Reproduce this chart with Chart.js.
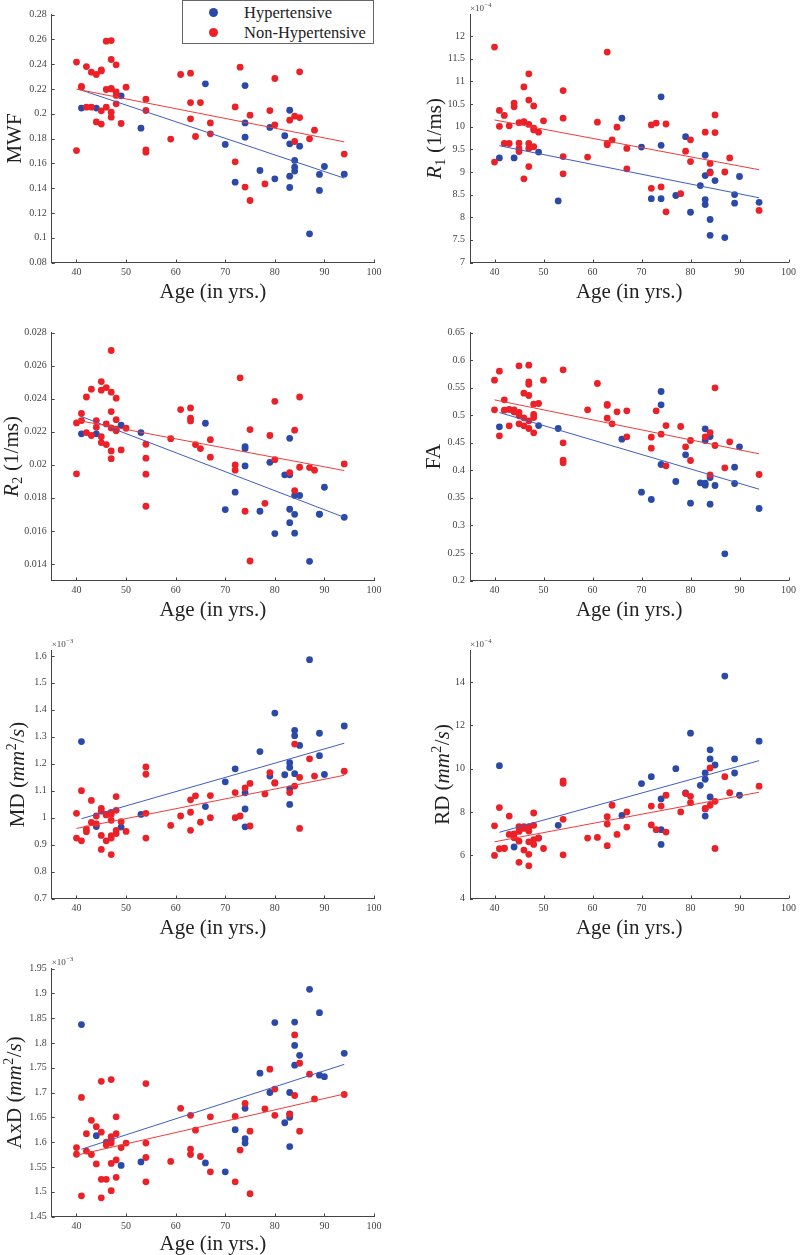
<!DOCTYPE html>
<html>
<head>
<meta charset="utf-8">
<script src="https://cdn.jsdelivr.net/npm/chart.js@4.4.1/dist/chart.umd.min.js"></script>
<style>
  html, body { margin: 0; padding: 0; background: #fff; }
  body { width: 800px; height: 1255px; position: relative; overflow: hidden; }
  canvas { position: absolute; }
  .legend {
    position: absolute; left: 182px; top: 0; width: 190px; height: 42px;
    border: 1px solid #666; background: #fff; z-index: 2;
    font-family: 'Liberation Serif', serif; font-size: 16.5px; color: #222;
  }
  .legend .dot { position: absolute; left: 26px; width: 9px; height: 9px; border-radius: 50%; }
  .legend .txt { position: absolute; left: 61px; line-height: 18px; white-space: nowrap; }
</style>
</head>
<body>
<div class="legend">
  <span class="dot" style="top:7px;background:#2b4aa8"></span><span class="txt" style="top:3px">Hypertensive</span>
  <span class="dot" style="top:27px;background:#ec2027"></span><span class="txt" style="top:23px">Non-Hypertensive</span>
</div>
<script>
  // subjects (ages in years), same for every panel
  const hypAge = [41, 44, 49, 53, 66, 70, 72, 74, 74, 74, 77, 79, 80, 82, 83, 83, 83, 83, 84, 84, 84, 85, 87, 89, 89, 90, 94];
  const nonAge = [40, 40, 41, 41, 42, 42, 43, 43, 44, 44, 45, 45, 45, 45, 46, 46, 46, 47, 47, 47, 47, 47, 47,
    48, 48, 48, 48, 49, 50, 54, 54, 54, 54, 59, 61, 63, 63, 63, 64, 65, 67, 67, 72, 72, 73, 74, 75, 75,
    78, 79, 80, 80, 83, 84, 84, 85, 85, 87, 88, 94];
  const fitAgeHyp = [41, 94];
  const fitAgeNon = [40, 94];
  const ageTicks = [40, 50, 60, 70, 80, 90, 100];

  // MWF
  const mwfHyp = [0.2045, 0.2045, 0.2144, 0.1883, 0.2241, 0.1752, 0.1448, 0.2227, 0.1926, 0.1811, 0.1542, 0.1889, 0.1475,
    0.1822, 0.2028, 0.1757, 0.1496, 0.1405, 0.1623, 0.1569, 0.1537, 0.1738, 0.1031, 0.1510, 0.1381, 0.1574, 0.1512];
  const mwfNon = [0.2416, 0.1703, 0.2220, 0.2215, 0.2380, 0.2053, 0.2335, 0.2053, 0.2316, 0.1934,
    0.2354, 0.2345, 0.2023, 0.1916, 0.2585, 0.2195, 0.2053, 0.2590, 0.2437, 0.2205, 0.2012, 0.1972, 0.2200,
    0.2394, 0.2176, 0.2147, 0.2080, 0.1921, 0.2214, 0.2117, 0.2026, 0.1709, 0.1690, 0.1795, 0.2316,
    0.2327, 0.2090, 0.1959, 0.1816, 0.2090, 0.1926, 0.1838, 0.2055, 0.1612, 0.2375, 0.1408, 0.1988, 0.1300,
    0.1434, 0.2025, 0.2284, 0.1910, 0.1948, 0.1980, 0.1776, 0.2338, 0.1969, 0.1797, 0.1867, 0.1674];
  const mwfFitHyp = [0.219, 0.148];
  const mwfFitNon = [0.2198, 0.1773];
  const mwfTicks = [0.08, 0.1, 0.12, 0.14, 0.16, 0.18, 0.2, 0.22, 0.24, 0.26, 0.28];

  // R1 (x 1e-4)
  const r1Hyp = [9.31, 9.31, 9.44, 8.36, 10.19, 9.55, 8.41, 10.66, 9.59, 8.41, 8.48, 9.78, 8.11, 8.70, 9.37, 8.92, 8.39,
    8.28, 9.00, 7.95, 7.60, 8.81, 7.55, 8.50, 8.31, 8.90, 8.33];
  const r1Non = [11.76, 9.22, 10.36, 10.01, 10.25, 9.63, 10.02, 9.63, 10.52, 10.44,
    10.09, 9.64, 9.52, 9.45, 10.88, 10.11, 8.85, 11.17, 10.59, 10.05, 9.63, 9.52, 9.12,
    10.46, 9.97, 9.93, 9.56, 9.88, 10.13, 10.80, 10.19, 9.34, 8.96, 9.33, 10.10,
    11.65, 9.63, 9.60, 9.71, 9.99, 9.52, 9.07, 10.04, 8.64, 10.08, 8.67, 10.06, 8.12,
    8.52, 9.46, 9.71, 9.23, 9.88, 9.19, 8.98, 10.26, 9.87, 9.00, 9.31, 8.15];
  const r1FitHyp = [9.58, 8.43];
  const r1FitNon = [10.15, 9.05];
  const r1Ticks = [7, 7.5, 8, 8.5, 9, 9.5, 10, 10.5, 11, 11.5, 12];

  // R2
  const r2Hyp = [0.02187, 0.02187, 0.02239, 0.02195, 0.02251, 0.01729, 0.01834, 0.02110, 0.02098, 0.01993, 0.01719,
    0.02015, 0.01584, 0.01939, 0.02160, 0.01939, 0.01731, 0.01650, 0.01814, 0.01700, 0.01586, 0.01814, 0.01416,
    0.01700, 0.01702, 0.01864, 0.01682];
  const r2Non = [0.02253, 0.01945, 0.02310, 0.02267, 0.02410, 0.02195, 0.02457, 0.02177, 0.02267, 0.02227,
    0.02503, 0.02451, 0.02170, 0.02134, 0.02467, 0.02247, 0.02122, 0.02691, 0.02439, 0.02322, 0.02223, 0.02084, 0.02037,
    0.02403, 0.02273, 0.02215, 0.02205, 0.02090, 0.02221, 0.02124, 0.02040, 0.01943, 0.01749, 0.02158, 0.02334,
    0.02344, 0.02282, 0.02265, 0.02122, 0.02098, 0.02152, 0.02046, 0.01999, 0.01967, 0.02526, 0.01719, 0.02213, 0.01418,
    0.01767, 0.02177, 0.02384, 0.02031, 0.01953, 0.02209, 0.01844, 0.02410, 0.01985, 0.01983, 0.01967, 0.02005];
  const r2FitHyp = [0.02292, 0.01682];
  const r2FitNon = [0.02270, 0.01965];
  const r2Ticks = [0.014, 0.016, 0.018, 0.02, 0.022, 0.024, 0.026, 0.028];

  // FA
  const faHyp = [0.4788, 0.5060, 0.4812, 0.4758, 0.4565, 0.3603, 0.3470, 0.5429, 0.5187, 0.4105, 0.3796, 0.4280, 0.3403,
    0.3772, 0.4752, 0.4540, 0.3766, 0.3730, 0.4613, 0.3869, 0.3385, 0.3724, 0.2484, 0.4056, 0.3760, 0.4425, 0.3306];
  const faNon = [0.5635, 0.5097, 0.5798, 0.4625, 0.5278, 0.5091, 0.5103, 0.4806, 0.5097, 0.5060,
    0.5895, 0.5048, 0.4988, 0.4843, 0.5399, 0.4952, 0.4806, 0.5907, 0.5605, 0.5560, 0.5357, 0.4897, 0.4758,
    0.5200, 0.5012, 0.4958, 0.4679, 0.5212, 0.5635, 0.5823, 0.4498, 0.4183, 0.4135, 0.5097, 0.5575,
    0.5194, 0.4946, 0.5180, 0.4843, 0.5060, 0.5079, 0.4607, 0.4601, 0.4401, 0.5079, 0.4655, 0.4812, 0.4081,
    0.4794, 0.4425, 0.4540, 0.4177, 0.4607, 0.4685, 0.3917, 0.5496, 0.4450, 0.4044, 0.4516, 0.3923];
  const faFitHyp = [0.5048, 0.3657];
  const faFitNon = [0.5278, 0.4298];
  const faTicks = [0.2, 0.25, 0.3, 0.35, 0.4, 0.45, 0.5, 0.55, 0.6, 0.65];

  // MD (x 1e-3)
  const mdHyp = [1.282, 0.967, 0.965, 1.012, 1.041, 1.133, 1.181, 1.092, 1.032, 0.966, 1.245, 1.154, 1.388, 1.159,
    1.204, 1.186, 1.107, 1.049, 1.324, 1.304, 1.163, 1.268, 1.586, 1.313, 1.230, 1.160, 1.340];
  const mdNon = [1.016, 0.924, 1.100, 0.914, 0.958, 0.948, 1.064, 0.982, 1.006, 0.977,
    1.034, 1.024, 0.934, 0.882, 1.012, 0.914, 1.010, 1.019, 0.990, 0.933, 0.924, 0.863, 1.012,
    1.078, 1.027, 0.953, 0.941, 0.985, 0.949, 1.188, 1.161, 1.016, 0.924, 0.971, 1.006,
    1.066, 1.020, 0.953, 1.081, 0.983, 1.082, 1.000, 1.093, 1.000, 1.006, 1.110, 1.127, 0.969,
    1.088, 1.167, 1.130, 1.128, 1.093, 1.273, 1.117, 1.149, 0.960, 1.218, 1.154, 1.172];
  const mdFitHyp = [0.996, 1.276];
  const mdFitNon = [0.960, 1.157];
  const mdTicks = [0.7, 0.8, 0.9, 1, 1.1, 1.2, 1.3, 1.4, 1.5, 1.6];

  // RD (x 1e-4)
  const rdHyp = [10.14, 6.38, 6.80, 7.38, 7.84, 9.31, 9.63, 8.60, 7.18, 6.50, 10.00, 8.88, 11.64, 9.23, 9.80, 9.51,
    8.14, 7.81, 10.87, 10.45, 8.69, 10.17, 14.28, 10.45, 9.80, 8.77, 11.27];
  const rdNon = [7.36, 5.99, 8.20, 6.30, 6.33, 6.31, 7.81, 6.96, 6.99, 6.81,
    7.32, 7.10, 6.65, 5.67, 7.32, 7.24, 6.24, 7.32, 7.12, 6.62, 6.04, 5.51, 7.30,
    7.95, 7.38, 6.72, 6.50, 6.79, 6.31, 9.43, 9.32, 7.66, 6.02, 6.79, 6.82,
    7.78, 7.44, 6.44, 8.31, 6.96, 8.00, 7.30, 8.27, 7.40, 7.18, 8.27, 8.77, 7.07,
    8.00, 8.85, 8.72, 8.43, 8.16, 10.03, 8.31, 8.49, 6.31, 9.63, 8.89, 9.19];
  const rdFitHyp = [7.06, 10.37];
  const rdFitNon = [6.62, 8.91];
  const rdTicks = [4, 6, 8, 10, 12, 14];

  // AxD (x 1e-3)
  const axdHyp = [1.837, 1.613, 1.553, 1.560, 1.558, 1.540, 1.625, 1.668, 1.607, 1.598, 1.739, 1.700, 1.841, 1.639,
    1.700, 1.657, 1.650, 1.591, 1.842, 1.795, 1.755, 1.775, 1.908, 1.861, 1.735, 1.732, 1.779];
  const axdNon = [1.589, 1.5755, 1.690, 1.4916, 1.617, 1.582, 1.644, 1.575, 1.631, 1.556,
    1.7225, 1.620, 1.525, 1.4876, 1.600, 1.594, 1.525, 1.726, 1.611, 1.604, 1.598, 1.557, 1.502,
    1.651, 1.617, 1.564, 1.529, 1.589, 1.598, 1.718, 1.598, 1.569, 1.520, 1.561, 1.668,
    1.654, 1.586, 1.575, 1.624, 1.571, 1.651, 1.540, 1.652, 1.520, 1.584, 1.678, 1.622, 1.496,
    1.667, 1.747, 1.707, 1.654, 1.656, 1.816, 1.694, 1.759, 1.622, 1.737, 1.687, 1.696];
  const axdFitHyp = [1.5856, 1.7567];
  const axdFitNon = [1.5735, 1.697];
  const axdTicks = [1.45, 1.5, 1.55, 1.6, 1.65, 1.7, 1.75, 1.8, 1.85, 1.9, 1.95];

  const serif = "'Liberation Serif', 'DejaVu Serif', serif";
  const blue = '#2b4aa8';
  const red = '#ec2027';
  const blueLine = '#3f5cc4';
  const redLine = '#f23a3a';
  const textColor = '#222';
  const tickColor = '#444';

  const panels = [
    { col: 0, row: 0, hyp: mwfHyp, non: mwfNon, fitHyp: mwfFitHyp, fitNon: mwfFitNon, ticks: mwfTicks,
      min: 0.08, max: 0.28, titleX: 14, title: [{ t: 'MWF' }] },
    { col: 1, row: 0, hyp: r1Hyp, non: r1Non, fitHyp: r1FitHyp, fitNon: r1FitNon, ticks: r1Ticks,
      min: 7, max: 12.48, titleX: 34, exp: '4', title: [{ t: 'R', i: true }, { t: '1', sub: true }, { t: ' (1/ms)' }] },
    { col: 0, row: 1, hyp: r2Hyp, non: r2Non, fitHyp: r2FitHyp, fitNon: r2FitNon, ticks: r2Ticks,
      min: 0.013, max: 0.028, titleX: 11, title: [{ t: 'R', i: true }, { t: '2', sub: true }, { t: ' (1/ms)' }] },
    { col: 1, row: 1, hyp: faHyp, non: faNon, fitHyp: faFitHyp, fitNon: faFitNon, ticks: faTicks,
      min: 0.2, max: 0.65, titleX: 33, title: [{ t: 'FA' }] },
    { col: 0, row: 2, hyp: mdHyp, non: mdNon, fitHyp: mdFitHyp, fitNon: mdFitNon, ticks: mdTicks,
      min: 0.7, max: 1.62, titleX: 17, exp: '3',
      title: [{ t: 'MD (' }, { t: 'mm', i: true }, { t: '2', sup: true }, { t: '/' }, { t: 's', i: true }, { t: ')' }] },
    { col: 1, row: 2, hyp: rdHyp, non: rdNon, fitHyp: rdFitHyp, fitNon: rdFitNon, ticks: rdTicks,
      min: 4, max: 15.46, titleX: 42, exp: '4',
      title: [{ t: 'RD (' }, { t: 'mm', i: true }, { t: '2', sup: true }, { t: '/' }, { t: 's', i: true }, { t: ')' }] },
    { col: 0, row: 3, hyp: axdHyp, non: axdNon, fitHyp: axdFitHyp, fitNon: axdFitNon, ticks: axdTicks,
      min: 1.45, max: 1.95, titleX: 14, exp: '3',
      title: [{ t: 'AxD (' }, { t: 'mm', i: true }, { t: '2', sup: true }, { t: '/' }, { t: 's', i: true }, { t: ')' }] }
  ];

  const toPoints = (ages, values) => values.map((v, i) => ({ x: ages[i], y: v }));
  const fmt = (v) => String(Number(v.toFixed(6)));

  const makeLabels = (panel) => ({
    id: 'panelLabels',
    afterDraw(chart) {
      const { ctx, chartArea: a } = chart;
      const xs = chart.scales.x;
      const ys = chart.scales.y;
      ctx.save();

      // small inward tick marks
      ctx.strokeStyle = tickColor;
      ctx.lineWidth = 1;
      ctx.beginPath();
      ageTicks.forEach((t) => {
        const px = Math.round(xs.getPixelForValue(t)) + 0.5;
        ctx.moveTo(px, a.bottom);
        ctx.lineTo(px, a.bottom - 3);
      });
      panel.ticks.forEach((t) => {
        const py = Math.round(ys.getPixelForValue(t)) + 0.5;
        ctx.moveTo(a.left, py);
        ctx.lineTo(a.left + 3, py);
      });
      ctx.stroke();

      ctx.fillStyle = textColor;
      ctx.font = `21px ${serif}`;
      ctx.textAlign = 'center';
      ctx.textBaseline = 'middle';
      const titleGap = panel.row === 3 ? 27.5 : 30;
      ctx.fillText('Age (in yrs.)', (a.left + a.right) / 2, a.bottom + titleGap);

      if (panel.exp) {
        ctx.fillStyle = tickColor;
        ctx.textAlign = 'left';
        ctx.font = `9px ${serif}`;
        ctx.fillText('\u00d710', a.left, a.top - 6);
        const w = ctx.measureText('\u00d710').width;
        ctx.font = `6.5px ${serif}`;
        ctx.fillText('\u2212' + panel.exp, a.left + w + 0.5, a.top - 9.5);
      }

      // rotated y title with mixed styles
      ctx.fillStyle = textColor;
      ctx.translate(panel.titleX, (a.top + a.bottom) / 2);
      ctx.rotate(-Math.PI / 2);
      ctx.textAlign = 'left';
      ctx.textBaseline = 'alphabetic';
      const fontOf = (s) => `${s.i ? 'italic ' : ''}${s.sub || s.sup ? 14 : 21}px ${serif}`;
      let total = 0;
      panel.title.forEach((s) => {
        ctx.font = fontOf(s);
        s.w = ctx.measureText(s.t).width + (s.sub || s.sup ? 1 : 0);
        total += s.w;
      });
      let x = -total / 2;
      panel.title.forEach((s) => {
        ctx.font = fontOf(s);
        const dy = s.sub ? 4 : s.sup ? -8 : 0;
        ctx.fillText(s.t, x + (s.sub || s.sup ? 0.5 : 0), 7 + dy);
        x += s.w;
      });
      ctx.restore();
    }
  });

  panels.forEach((panel) => {
    const canvas = document.createElement('canvas');
    canvas.width = 400;
    canvas.height = 318;
    canvas.style.left = `${panel.col * 400}px`;
    canvas.style.top = `${panel.row * 318}px`;
    document.body.appendChild(canvas);

    const yWidth = panel.col === 0 ? 51.7 : 70;
    const rightPad = panel.col === 0 ? 26 : 7;

    new Chart(canvas, {
      type: 'scatter',
      data: {
        datasets: [
          { data: toPoints(hypAge, panel.hyp), backgroundColor: blue, borderWidth: 0, pointRadius: 3.4, order: 4 },
          { data: toPoints(nonAge, panel.non), backgroundColor: red, borderWidth: 0, pointRadius: 3.4, order: 3 },
          { type: 'line', data: toPoints(fitAgeHyp, panel.fitHyp), borderColor: blueLine, borderWidth: 1,
            pointRadius: 0, fill: false, order: 2 },
          { type: 'line', data: toPoints(fitAgeNon, panel.fitNon), borderColor: redLine, borderWidth: 1,
            pointRadius: 0, fill: false, order: 1 }
        ]
      },
      options: {
        responsive: false,
        animation: false,
        devicePixelRatio: 1,
        layout: { padding: { top: 14.5, right: rightPad, left: 0, bottom: 0 } },
        plugins: { legend: { display: false }, tooltip: { enabled: false } },
        scales: {
          x: {
            type: 'linear',
            min: 35,
            max: 100,
            afterBuildTicks: (s) => { s.ticks = ageTicks.map((v) => ({ value: v })); },
            afterFit: (s) => { s.height = 55.5; },
            grid: { display: false, drawTicks: false },
            border: { display: true, color: tickColor, width: 1 },
            ticks: { padding: 4, color: tickColor, font: { family: serif, size: 10 }, callback: fmt, maxRotation: 0 }
          },
          y: {
            type: 'linear',
            min: panel.min,
            max: panel.max,
            afterBuildTicks: (s) => { s.ticks = panel.ticks.map((v) => ({ value: v })); },
            afterFit: (s) => { s.width = yWidth; },
            grid: { display: false, drawTicks: false },
            border: { display: true, color: tickColor, width: 1 },
            ticks: { padding: 5, color: tickColor, font: { family: serif, size: 10 }, callback: fmt }
          }
        }
      },
      plugins: [makeLabels(panel)]
    });
  });
</script>
</body>
</html>
